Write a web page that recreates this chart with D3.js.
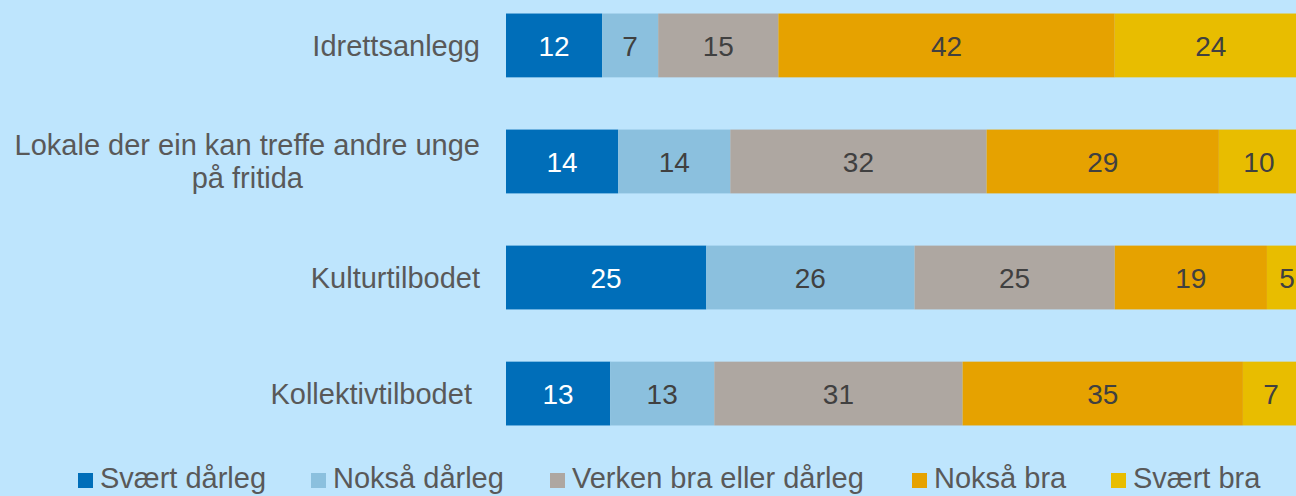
<!DOCTYPE html>
<html><head><meta charset="utf-8">
<script src="https://cdn.jsdelivr.net/npm/d3@7"></script>
<style>
html,body{margin:0;padding:0;background:#BEE5FD;}
svg{display:block;}
text{font-family:"Liberation Sans",Arial,sans-serif;}
</style></head>
<body>
<svg id="chart" width="1296" height="496"></svg>
<script>
const categories = [["Idrettsanlegg"], ["Lokale der ein kan treffe andre unge", "på fritida"], ["Kulturtilbodet"], ["Kollektivtilbodet\u00A0"]];
const seriesNames = ["Svært dårleg", "Nokså dårleg", "Verken bra eller dårleg", "Nokså bra", "Svært bra"];
const svaertDaarleg = [12, 14, 25, 13];
const noksaaDaarleg = [7, 14, 26, 13];
const verken = [15, 32, 25, 31];
const noksaaBra = [42, 29, 19, 35];
const svaertBra = [24, 10, 5, 7];
const colors = ["#006EB9", "#8BC0DE", "#AEA7A1", "#E6A200", "#E8BD00"];
const textColors = ["#FFFFFF", "#404040", "#404040", "#404040", "#404040"];

const seriesValues = [svaertDaarleg, noksaaDaarleg, verken, noksaaBra, svaertBra];
const rows = categories.map((c, i) => {
  const r = {idx: i};
  seriesNames.forEach((s, j) => r[s] = seriesValues[j][i]);
  return r;
});
const stack = d3.stack().keys(seriesNames)(rows);

const svg = d3.select("#chart");
const x = d3.scaleLinear().domain([0, 100]).range([506, 1307]);
const y = d3.scaleBand().domain(d3.range(categories.length)).range([-12, 451]).paddingInner(0.45).paddingOuter(0.22);

const g = svg.append("g");
stack.forEach((layer, j) => {
  const lg = g.append("g");
  lg.selectAll("rect").data(layer).join("rect")
    .attr("x", d => x(d[0]))
    .attr("y", (d, i) => y(i))
    .attr("width", d => x(d[1]) - x(d[0]))
    .attr("height", y.bandwidth())
    .attr("fill", colors[j]);
  lg.selectAll("text").data(layer).join("text")
    .attr("x", d => (x(d[0]) + x(d[1])) / 2)
    .attr("y", (d, i) => y(i) + y.bandwidth() / 2)
    .attr("dy", "0.36em")
    .attr("text-anchor", "middle")
    .attr("font-size", 28)
    .attr("fill", textColors[j])
    .text(d => d[1] - d[0]);
});

// category labels
const lab = svg.append("g");
categories.forEach((lines, i) => {
  const cy = y(i) + y.bandwidth() / 2;
  const lh = 33;
  const t = lab.append("text")
    .attr("text-anchor", "end")
    .attr("font-size", 29)
    .attr("fill", "#595959")
    .attr("xml:space", "preserve");
  lines.forEach((ln, k) => {
    t.append("tspan")
      .attr("x", 480)
      .attr("y", cy + (k - (lines.length - 1) / 2) * lh)
      .attr("dy", "0.36em")
      .text(ln);
  });
  if (lines.length > 1) {
    const w0 = t.select("tspan").node().getComputedTextLength();
    t.selectAll("tspan").attr("text-anchor", "middle").attr("x", 480 - w0 / 2);
  }
});

// legend
const legendX = [78, 311, 550, 912, 1111];
const leg = svg.append("g");
seriesNames.forEach((s, j) => {
  leg.append("rect").attr("x", legendX[j]).attr("y", 473).attr("width", 15).attr("height", 15).attr("fill", colors[j]);
  leg.append("text").attr("x", legendX[j] + 22).attr("y", 488)
    .attr("font-size", 29).attr("fill", "#595959").text(s);
});
</script>
</body></html>
